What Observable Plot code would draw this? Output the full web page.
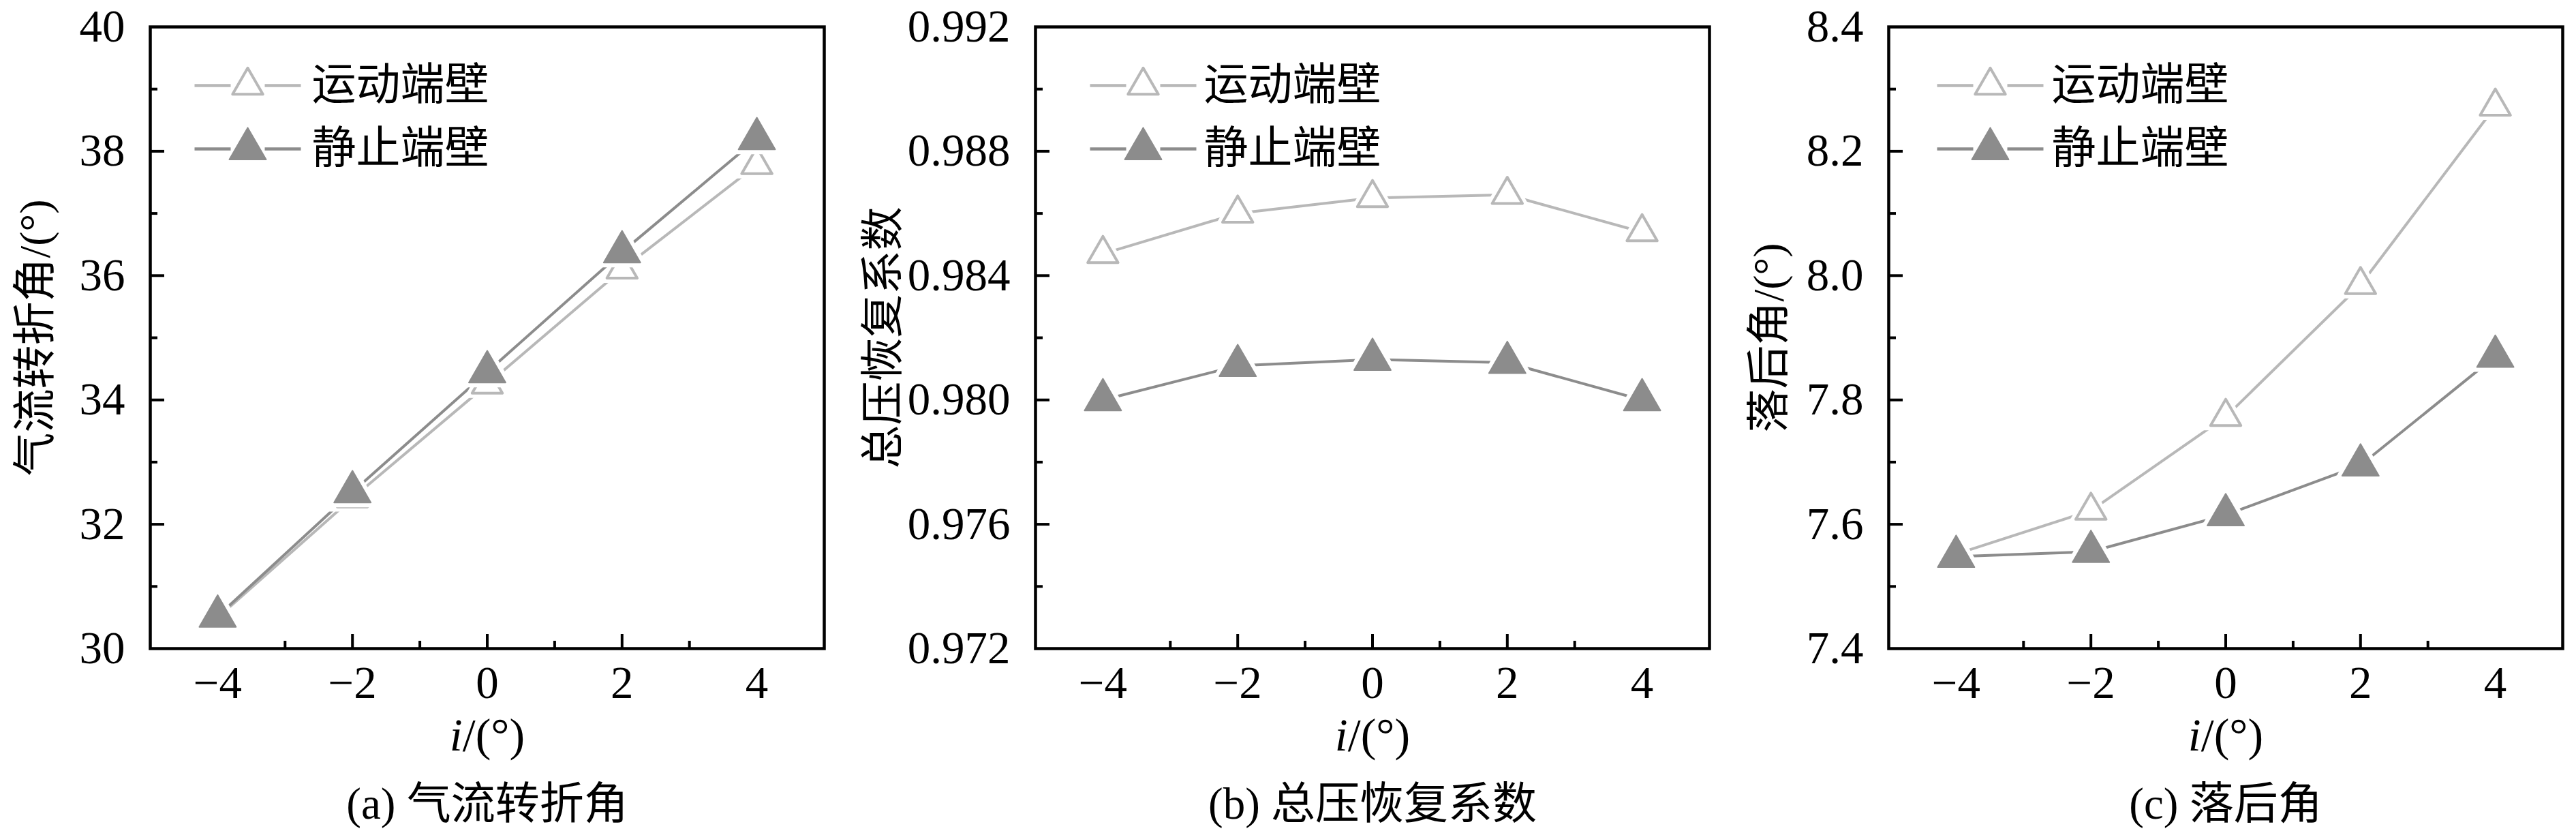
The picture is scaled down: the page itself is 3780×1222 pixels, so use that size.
<!DOCTYPE html>
<html>
<head>
<meta charset="utf-8">
<script src="https://cdn.jsdelivr.net/npm/d3@7"></script>
<script src="https://cdn.jsdelivr.net/npm/@observablehq/plot@0.6"></script>
<style>
html, body { margin: 0; padding: 0; background: #fff; }
#row { display: flex; width: 3780px; height: 1222px; }
#row svg { flex: none; max-width: none; }
</style>
</head>
<body>
<div id="row"></div>
<script>
// ---- data ----
const incidence = [-4, -2, 0, 2, 4];
const seriesNames = ["运动端壁", "静止端壁"];
const turningMoving   = [30.50, 32.42, 34.25, 36.10, 37.78];
const turningStatic   = [30.52, 32.52, 34.45, 36.38, 38.20];
const recoveryMoving  = [0.9847, 0.9860, 0.9865, 0.9866, 0.9854];
const recoveryStatic  = [0.9800, 0.9811, 0.9813, 0.9812, 0.9800];
const deviationMoving = [7.552, 7.622, 7.773, 7.985, 8.272];
const deviationStatic = [7.548, 7.556, 7.615, 7.695, 7.870];
const xTicks = [-4, -2, 0, 2, 4];
const xMinor = [-3, -1, 1, 3];
const turningTicks = [30, 32, 34, 36, 38, 40];
const turningMinor = [31, 33, 35, 37, 39];
const recoveryTicks = [0.972, 0.976, 0.980, 0.984, 0.988, 0.992];
const recoveryMinor = [0.974, 0.978, 0.982, 0.986, 0.990];
const deviationTicks = [7.4, 7.6, 7.8, 8.0, 8.2, 8.4];
const deviationMinor = [7.5, 7.7, 7.9, 8.1, 8.3];
const yLabels = ["气流转折角/(°)", "总压恢复系数", "落后角/(°)"];
const captions = ["(a) 气流转折角", "(b) 总压恢复系数", "(c) 落后角"];
const xLabel = "i/(°)";

// ---- style ----
const FONT = "'Liberation Serif', 'Noto Sans CJK SC', serif";
const LIGHT = "#b8b8b8";
const DARK = "#8c8c8c";
const W = 1260, H = 1222, MT = 39, MB = 271;
const R_HOLLOW = 16.5, R_FILLED = 20, HALO = 9;

const fmtX = d => d < 0 ? "\u2212" + (-d) : String(d);

const legendDash = {
  draw(ctx) {
    ctx.moveTo(-78, 0); ctx.lineTo(-25, 0);
    ctx.moveTo(25, 0); ctx.lineTo(78, 0);
  }
};

const panels = [
  {moving: turningMoving, stat: turningStatic, domain: [30, 40], ticks: turningTicks, minor: turningMinor,
   fmt: d => String(d), ml: 220, mr: 51, ylx: -168, legX: 143, legT: 237},
  {moving: recoveryMoving, stat: recoveryStatic, domain: [0.972, 0.992], ticks: recoveryTicks, minor: recoveryMinor,
   fmt: d3.format(".3f"), ml: 259, mr: 12, ylx: -223, legX: 158, legT: 247},
  {moving: deviationMoving, stat: deviationStatic, domain: [7.4, 8.4], ticks: deviationTicks, minor: deviationMinor,
   fmt: d3.format(".1f"), ml: 251, mr: 20, ylx: -175, legX: 149, legT: 239}
];

function makePanel(cfg, k) {
  const innerH = H - MT - MB;
  const innerW = W - cfg.ml - cfg.mr;
  const rows = (vals, s) => incidence.map((x, i) => ({x, y: vals[i], s}));
  const mv = rows(cfg.moving, seriesNames[0]);
  const st = rows(cfg.stat, seriesNames[1]);
  const inner = a => a.slice(1, -1);
  const svg = Plot.plot({
    width: W, height: H,
    marginLeft: cfg.ml, marginRight: cfg.mr, marginTop: MT, marginBottom: MB,
    style: {fontFamily: FONT, fontSize: "67px", background: "white", color: "black"},
    x: {domain: [-5, 5], ticks: xTicks, tickSize: 0, tickPadding: 25, tickFormat: fmtX, label: null},
    y: {domain: cfg.domain, ticks: cfg.ticks, tickSize: 0, tickPadding: 37, tickFormat: cfg.fmt, label: null},
    marks: [
      Plot.line(mv, {x: "x", y: "y", stroke: LIGHT, strokeWidth: 4}),
      Plot.line(st, {x: "x", y: "y", stroke: DARK, strokeWidth: 4}),
      Plot.dot(mv, {x: "x", y: "y", symbol: "triangle", r: R_HOLLOW + HALO, fill: "white", stroke: "none"}),
      Plot.dot(mv, {x: "x", y: "y", symbol: "triangle", r: R_HOLLOW, fill: "white", stroke: LIGHT, strokeWidth: 4, strokeLinejoin: "round"}),
      Plot.dot(st, {x: "x", y: "y", symbol: "triangle", r: R_FILLED + HALO, fill: "white", stroke: "none"}),
      Plot.dot(st, {x: "x", y: "y", symbol: "triangle", r: R_FILLED, fill: DARK, stroke: DARK, strokeWidth: 2, strokeLinejoin: "round"}),
      // inward ticks
      Plot.ruleX(inner(xTicks), {x: d => d, insetTop: innerH - 21, stroke: "black", strokeWidth: 4}),
      Plot.ruleX(xMinor, {x: d => d, insetTop: innerH - 11, stroke: "black", strokeWidth: 4}),
      Plot.ruleY(inner(cfg.ticks), {y: d => d, insetRight: innerW - 21, stroke: "black", strokeWidth: 4}),
      Plot.ruleY(cfg.minor, {y: d => d, insetRight: innerW - 11, stroke: "black", strokeWidth: 4}),
      Plot.frame({stroke: "black", strokeWidth: 4.5}),
      // legend
      Plot.dot([seriesNames[0]], {frameAnchor: "top-left", dx: cfg.legX, dy: 86, symbol: legendDash, fill: "none", stroke: LIGHT, strokeWidth: 4.5}),
      Plot.dot([seriesNames[0]], {frameAnchor: "top-left", dx: cfg.legX, dy: 86, symbol: "triangle", r: R_HOLLOW, fill: "white", stroke: LIGHT, strokeWidth: 4, strokeLinejoin: "round"}),
      Plot.text([seriesNames[0]], {frameAnchor: "top-left", dx: cfg.legT, dy: 86, text: d => d, textAnchor: "start", lineAnchor: "middle", fontSize: 65, fill: "black"}),
      Plot.dot([seriesNames[1]], {frameAnchor: "top-left", dx: cfg.legX, dy: 179, symbol: legendDash, fill: "none", stroke: DARK, strokeWidth: 4.5}),
      Plot.dot([seriesNames[1]], {frameAnchor: "top-left", dx: cfg.legX, dy: 179, symbol: "triangle", r: R_FILLED, fill: DARK, stroke: DARK, strokeWidth: 2, strokeLinejoin: "round"}),
      Plot.text([seriesNames[1]], {frameAnchor: "top-left", dx: cfg.legT, dy: 179, text: d => d, textAnchor: "start", lineAnchor: "middle", fontSize: 65, fill: "black"}),
      // axis titles and caption
      Plot.text([yLabels[k]], {frameAnchor: "left", dx: cfg.ylx, text: d => d, rotate: -90, textAnchor: "middle", lineAnchor: "middle", fontSize: 64, fill: "black"}),
      Plot.text([xLabel], {frameAnchor: "bottom", dy: 149, text: d => d, textAnchor: "middle", lineAnchor: "bottom", fontSize: 68, fill: "black"}),
      Plot.text([captions[k]], {frameAnchor: "bottom", dy: 249, text: d => d, textAnchor: "middle", lineAnchor: "bottom", fontSize: 65, fill: "black"})
    ]
  });
  // italic "i" in the x-axis title
  const ns = "http://www.w3.org/2000/svg";
  svg.querySelectorAll("text").forEach(t => {
    if (t.textContent === xLabel) {
      t.textContent = "";
      const a = document.createElementNS(ns, "tspan");
      a.setAttribute("font-style", "italic");
      a.textContent = "i";
      const b = document.createElementNS(ns, "tspan");
      b.textContent = "/(°)";
      t.append(a, b);
    }
  });
  return svg;
}

const row = document.getElementById("row");
panels.forEach((cfg, k) => row.append(makePanel(cfg, k)));
</script>
</body>
</html>
